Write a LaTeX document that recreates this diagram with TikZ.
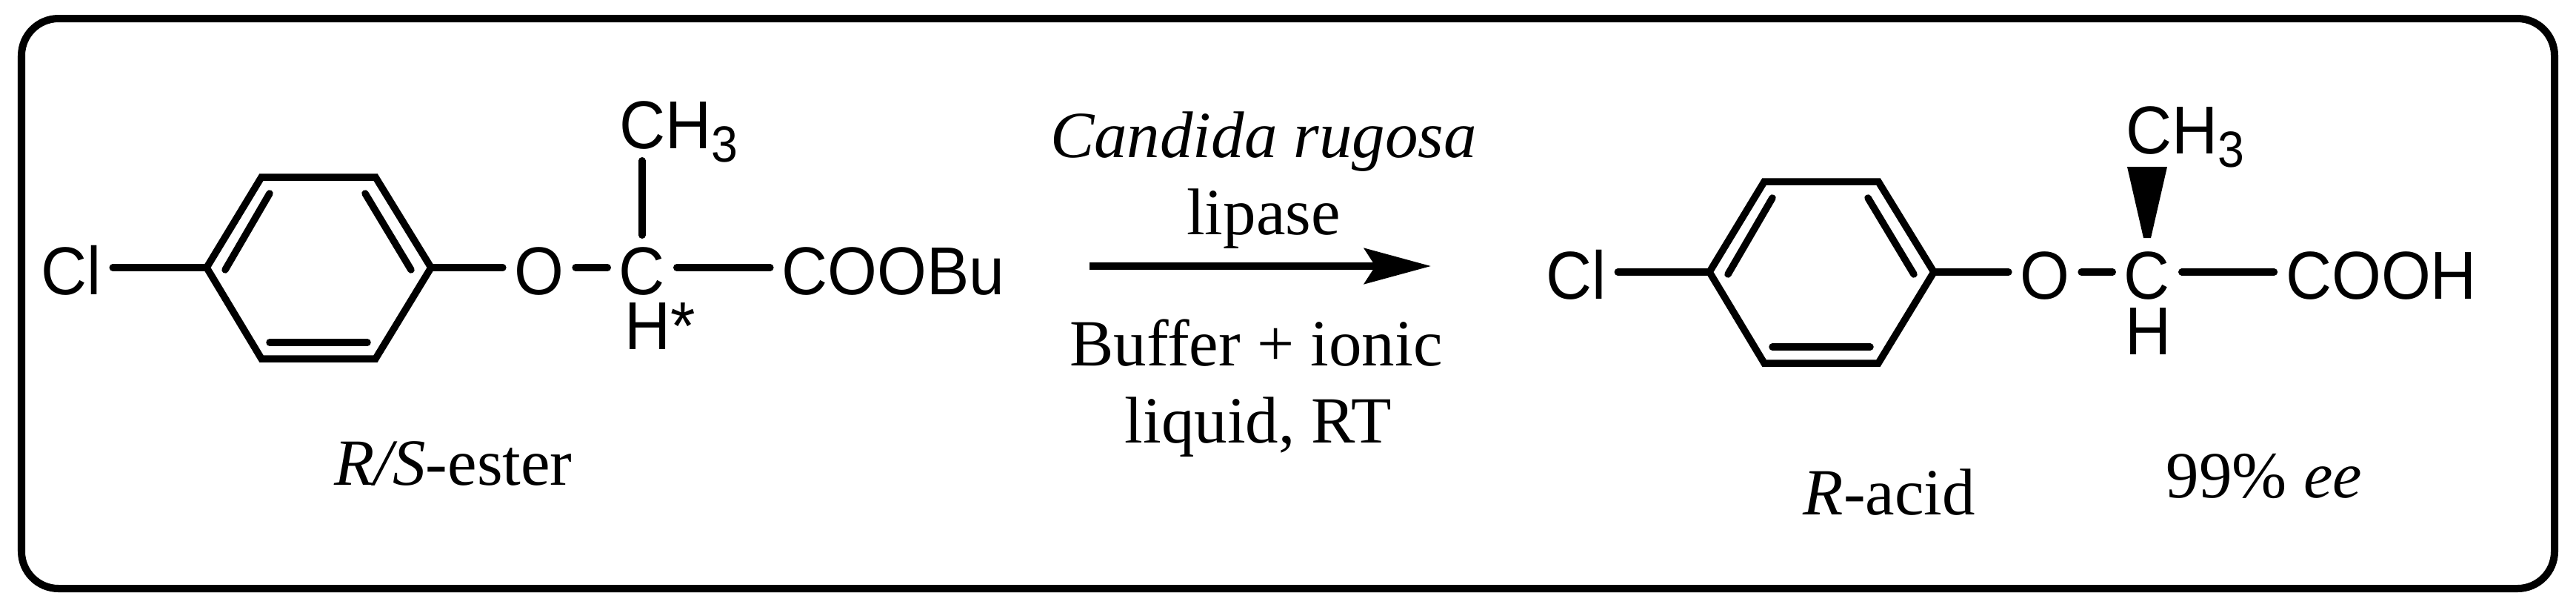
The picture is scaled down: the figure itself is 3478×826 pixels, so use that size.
\documentclass[tikz,border=0pt]{standalone}
\usepackage{fontspec}
\setmainfont{Liberation Serif}
\setsansfont{Liberation Sans}[FakeStretch=.94]
\usetikzlibrary{arrows.meta}

\newcommand{\chemfont}{\sffamily\fontsize{26}{31}\selectfont}
\newcommand{\notefont}{\rmfamily\fontsize{25.3}{30}\selectfont}
\newcommand{\subthree}{\raisebox{-.18cm}{\fontsize{19.5}{24}\selectfont 3}}

\tikzset{
  bondline/.style={line width=.095cm,line cap=round},
  atom/.style={font=\chemfont,inner xsep=.15cm,inner ysep=0pt,text height=.72cm,text depth=0pt},
  note/.style={font=\notefont,inner sep=0pt,anchor=base},
}

\begin{document}
\begin{tikzpicture}[x=.01cm,y=-.01cm]
        \useasboundingbox (0,0) rectangle (3478,826);
        \draw[line width=.1cm,rounded corners=.5cm] (29,25) rectangle (3449,794);

        \node[atom] (cl1) at (96,361) {Cl};
        \node[atom] (ox1) at (728,361) {O};
        \node[atom] (cc1) at (867,361) {C};
        \node[atom] (tail1) at (1206,361) {COOBu};
        \node[atom] (me1) at (916,164) {CH\subthree};
        \node[atom] (hh1) at (891,435) {H*};

        \node[atom] (cl2) at (2128,367) {Cl};
        \node[atom] (ox2) at (2761,367) {O};
        \node[atom] (cc2) at (2899,367) {C};
        \node[atom] (tail2) at (3215,367) {COOH};
        \node[atom] (me2) at (2950,171) {CH\subthree};
        \node[atom] (hh2) at (2900,442) {H};

        \foreach \m/\dx/\dy in {1/0/0,2/2029/6} {
          \begin{scope}[shift={(\dx,\dy)}]
            \coordinate (ring\m w) at (279,361);
            \coordinate (ring\m e) at (582,361);
            \draw[line width=.095cm] (ring\m w) -- (353,239) -- (507,239) -- (ring\m e) -- (507,484) -- (353,484) -- cycle;
            \draw[bondline] (304,364) -- (364,261);
            \draw[bondline] (555,364) -- (493,261);
            \draw[bondline] (364,462) -- (496,462);
          \end{scope}
          \draw[bondline] (cl\m.east) -- (ring\m w);
          \draw[bondline] (ring\m e) -- (ox\m.west);
          \draw[bondline] (ox\m.east) -- (cc\m.west);
          \draw[bondline] (cc\m.east) -- (tail\m.west);
        }

        \draw[bondline,shorten <=.07cm,shorten >=.16cm] (cc1.north) -- (cc1 |- me1.south);
        \coordinate (wedgetop) at (2899,225);
        \coordinate (wedgetip) at (2899,321);
        \fill ([xshift=-.27cm]wedgetop) -- ([xshift=.27cm]wedgetop) -- ([xshift=.05cm]wedgetip) -- ([xshift=-.05cm]wedgetip) -- cycle;

        \coordinate (arrowtail) at (1471,359);
        \coordinate (arrowhead) at (1932,359);
        \draw[line width=.095cm,-{Stealth[length=.9cm,width=.48cm,inset=.15cm]}] (arrowtail) -- (arrowhead);

        \node[note] (enzyme) at (1706,212) {\textit{Candida rugosa}};
        \node[note] (lipase) at (1706,316) {lipase};
        \node[note] (buffer) at (1696,493) {Buffer + ionic};
        \node[note] (liquid) at (1699,597) {liquid, RT};
        \node[note] (ester) at (612,654) {\textit{R/S}-ester};
        \node[note] (acid) at (2551,694) {\textit{R}-acid};
        \node[note] (excess) at (3057,671) {99\% \textit{ee}};
      \end{tikzpicture}
\end{document}
